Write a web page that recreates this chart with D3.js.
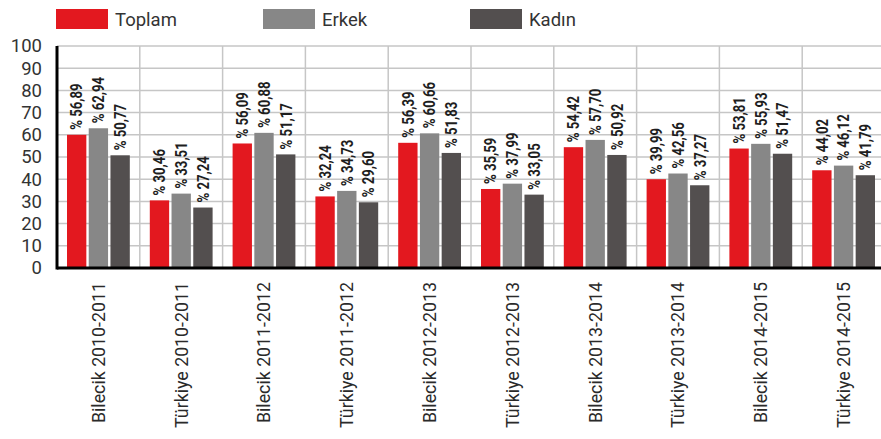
<!DOCTYPE html>
<html>
<head>
<meta charset="utf-8">
<script src="https://cdn.jsdelivr.net/npm/d3@7"></script>
<style>
  body { margin: 0; background: #fff; }
  svg { display: block; font-family: Roboto, "DejaVu Sans", sans-serif; }
</style>
</head>
<body>
<div id="chart"></div>
<script>
var categories = ["Bilecik 2010-2011", "Türkiye 2010-2011", "Bilecik 2011-2012", "Türkiye 2011-2012",
                  "Bilecik 2012-2013", "Türkiye 2012-2013", "Bilecik 2013-2014", "Türkiye 2013-2014",
                  "Bilecik 2014-2015", "Türkiye 2014-2015"];
var seriesNames = ["Toplam", "Erkek", "Kadın"];
var toplam = [56.89, 30.46, 56.09, 32.24, 56.39, 35.59, 54.42, 39.99, 53.81, 44.02];
var erkek  = [62.94, 33.51, 60.88, 34.73, 60.66, 37.99, 57.70, 42.56, 55.93, 46.12];
var kadin  = [50.77, 27.24, 51.17, 29.60, 51.83, 33.05, 50.92, 37.27, 51.47, 41.79];
// the source chart draws the first "Toplam" bar at about 60 although its label reads 56,89
var toplamBar = [60, 30.46, 56.09, 32.24, 56.39, 35.59, 54.42, 39.99, 53.81, 44.02];
var yTicks = [0, 10, 20, 30, 40, 50, 60, 70, 80, 90, 100];

var colors = ["#e3181f", "#878787", "#534f4f"];

var width = 881, height = 439;
var margin = {left: 57, top: 46, bottom: 171};
var plotRight = 885;

var svg = d3.select("#chart").append("svg")
    .attr("width", width)
    .attr("height", height);

var x0 = d3.scaleBand().domain(categories).range([margin.left, plotRight]);
var x1 = d3.scaleBand().domain(seriesNames).range([10, x0.bandwidth() - 10]).paddingInner(0.11);
var y = d3.scaleLinear().domain([0, 100]).range([height - margin.bottom, margin.top]);

// grid
svg.append("g").selectAll("line.h")
    .data(yTicks.slice(1))
    .enter().append("line")
    .attr("x1", margin.left).attr("x2", width)
    .attr("y1", function(d){ return y(d); }).attr("y2", function(d){ return y(d); })
    .attr("stroke", "#c6c6c6").attr("stroke-width", 1.5);

svg.append("g").selectAll("line.v")
    .data(categories.slice(1))
    .enter().append("line")
    .attr("x1", function(d){ return x0(d); }).attr("x2", function(d){ return x0(d); })
    .attr("y1", y(100)).attr("y2", y(0))
    .attr("stroke", "#c6c6c6").attr("stroke-width", 1.5);

// bars
var rows = categories.map(function(c, i){
    return {cat: c, vals: [
        {s: "Toplam", v: toplam[i], h: toplamBar[i]},
        {s: "Erkek", v: erkek[i], h: erkek[i]},
        {s: "Kadın", v: kadin[i], h: kadin[i]}
    ]};
});

var groups = svg.append("g").selectAll("g")
    .data(rows)
    .enter().append("g")
    .attr("transform", function(d){ return "translate(" + x0(d.cat) + ",0)"; });

groups.selectAll("rect")
    .data(function(d){ return d.vals; })
    .enter().append("rect")
    .attr("x", function(d){ return x1(d.s); })
    .attr("width", x1.bandwidth())
    .attr("y", function(d){ return y(d.h); })
    .attr("height", function(d){ return y(0) - y(d.h); })
    .attr("fill", function(d, i){ return colors[i]; });

groups.selectAll("text")
    .data(function(d){ return d.vals; })
    .enter().append("text")
    .attr("transform", function(d){
        return "translate(" + (x1(d.s) + x1.bandwidth() / 2) + "," + (y(d.h) - 5) + ") rotate(-90) scale(0.82,1)";
    })
    .attr("dy", "0.36em")
    .attr("font-size", 16)
    .attr("font-weight", "bold")
    .attr("fill", "#1e1e1e")
    .text(function(d){ return "% " + d.v.toFixed(2).replace(".", ","); });

// axes
svg.append("line")
    .attr("x1", margin.left).attr("x2", width)
    .attr("y1", y(0)).attr("y2", y(0))
    .attr("stroke", "#000").attr("stroke-width", 3);
svg.append("line")
    .attr("x1", margin.left).attr("x2", margin.left)
    .attr("y1", y(100)).attr("y2", y(0) + 1.5)
    .attr("stroke", "#000").attr("stroke-width", 3);

var yAxis = d3.axisLeft(y).tickValues(yTicks).tickSize(0).tickPadding(15);
var ya = svg.append("g").attr("transform", "translate(" + margin.left + ",0)").call(yAxis);
ya.select(".domain").remove();
ya.selectAll("text").attr("font-size", 18.5).attr("fill", "#333").attr("font-family", "Roboto, sans-serif");

svg.append("g").selectAll("text")
    .data(categories)
    .enter().append("text")
    .attr("transform", function(d){
        return "translate(" + (x0(d) + x0.bandwidth() / 2) + "," + (y(0) + 14) + ") rotate(-90)";
    })
    .attr("text-anchor", "end")
    .attr("dy", "0.36em")
    .attr("font-size", 17.8)
    .attr("fill", "#2a2a2a")
    .text(function(d){ return d; });

// legend
var legendX = [56, 263, 470];
var legend = svg.append("g").selectAll("g")
    .data(seriesNames)
    .enter().append("g")
    .attr("transform", function(d, i){ return "translate(" + legendX[i] + ",9)"; });
legend.append("rect")
    .attr("width", 52).attr("height", 20)
    .attr("fill", function(d, i){ return colors[i]; });
legend.append("text")
    .attr("x", 59).attr("y", 10).attr("dy", "0.36em")
    .attr("font-size", 18.5).attr("fill", "#333")
    .text(function(d){ return d; });
</script>
</body>
</html>
